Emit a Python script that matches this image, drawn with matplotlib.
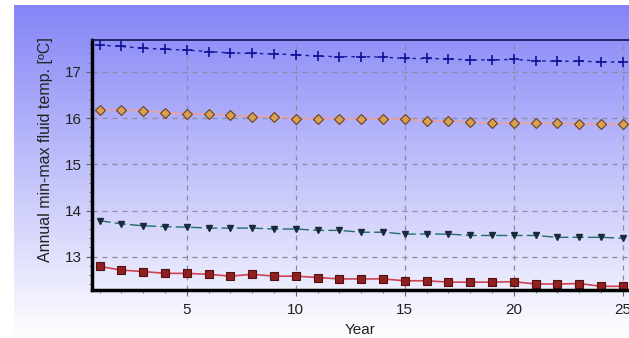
import numpy as np
import matplotlib
matplotlib.use("Agg")
import matplotlib.pyplot as plt
from matplotlib.ticker import MultipleLocator

years = list(range(1, 26))
max_fluid = [17.58, 17.55, 17.51, 17.49, 17.47, 17.44, 17.41, 17.40, 17.39, 17.37,
             17.34, 17.33, 17.33, 17.32, 17.29, 17.29, 17.28, 17.26, 17.26, 17.27,
             17.24, 17.23, 17.23, 17.22, 17.21]
max_base = [16.18, 16.18, 16.16, 16.12, 16.09, 16.09, 16.06, 16.03, 16.03, 15.99,
            15.99, 15.99, 15.99, 15.98, 15.98, 15.94, 15.94, 15.91, 15.89, 15.89,
            15.89, 15.89, 15.87, 15.87, 15.87]
min_fluid = [13.78, 13.71, 13.67, 13.65, 13.64, 13.62, 13.62, 13.62, 13.60, 13.60,
             13.57, 13.57, 13.53, 13.53, 13.49, 13.49, 13.49, 13.46, 13.46, 13.46,
             13.46, 13.42, 13.42, 13.42, 13.40]
min_base = [12.79, 12.71, 12.68, 12.64, 12.64, 12.62, 12.58, 12.62, 12.58, 12.58,
            12.55, 12.52, 12.52, 12.52, 12.48, 12.48, 12.45, 12.45, 12.45, 12.46,
            12.41, 12.41, 12.42, 12.36, 12.36]

plt.rcParams['font.family'] = ['Liberation Sans', 'DejaVu Sans']

W, H = 629, 338
fig = plt.figure(figsize=(W / 100, H / 100), dpi=100)
fig.patch.set_facecolor('white')

# gradient panel
bg = fig.add_axes([14 / W, 0 / H, 1 - 14 / W, (H - 5) / H], zorder=0)
grad = np.linspace(0, 1, 256).reshape(-1, 1)
top = np.array([0.52, 0.52, 0.97])
bot = np.array([1.0, 1.0, 1.0])
img = top[None, None, :] * (1 - grad[:, :, None]) + bot[None, None, :] * grad[:, :, None]
bg.imshow(img, aspect='auto', extent=[0, 1, 0, 1])
bg.axis('off')

left, right, topy, boty = 92, 629, 40, 290
ax = fig.add_axes([left / W, (H - boty) / H, (right - left) / W, (boty - topy) / H], zorder=1)
ax.patch.set_alpha(0)

ax.plot(years, max_fluid, color='#1a1a9a', ls=(0, (2.5, 3)), lw=1.0,
        marker='+', ms=7.5, mew=1.2, mec='#10109a')
ax.plot(years, max_base, color='#e8a0a0', ls='-', lw=1.2,
        marker='D', ms=5, mfc='#d9a050', mec='#6a4020', mew=0.8)
ax.plot(years, min_fluid, color='#1f6f6a', ls=(0, (8, 3)), lw=1.0,
        marker='v', ms=4, mfc='#1a2a3a', mec='#1a2a3a')
ax.plot(years, min_base, color='#d04050', ls='-', lw=1.2,
        marker='s', ms=5.5, mfc='#902020', mec='#501010', mew=0.8)

ax.set_xlim(0.65, 25.28)
ax.set_ylim(12.28, 17.69)
ax.xaxis.set_major_locator(MultipleLocator(5))
ax.xaxis.set_minor_locator(MultipleLocator(1))
ax.yaxis.set_major_locator(MultipleLocator(1))
ax.yaxis.set_minor_locator(MultipleLocator(0.2))
ax.grid(True, which='major', color='#8a8aa0', ls=(0, (4, 4)), lw=0.9)
ax.tick_params(axis='both', which='major', labelsize=11, color='#606070', length=4,
               direction='out', labelcolor='#222222')
ax.tick_params(axis='both', which='minor', color='#606070', length=2.5, direction='out')
ax.tick_params(axis='x', pad=5)

for s in ['left', 'bottom']:
    ax.spines[s].set_linewidth(2.5)
    ax.spines[s].set_color('black')
ax.spines['top'].set_linewidth(1.2)
ax.spines['top'].set_color('#101050')
ax.spines['right'].set_visible(False)

ax.set_xlabel('Year', fontsize=11, color='#222222', labelpad=5)
ax.set_ylabel('Annual min-max fluid temp. [ºC]', fontsize=11.5, color='#222222')
ax.yaxis.set_label_coords(-0.072, 0.56)

fig.savefig('out.png', dpi=100)
